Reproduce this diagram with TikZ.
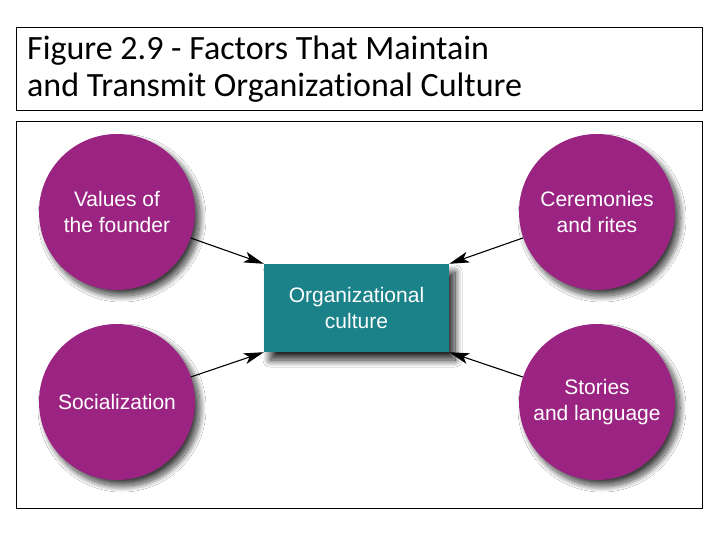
\documentclass[tikz,border=0pt]{standalone}
\usepackage{fontspec}
\setmainfont{Liberation Sans}
\newfontfamily\titlefont[Ligatures={NoCommon,NoRare,NoContextual},RawFeature={-liga;-dlig;-calt}]{Carlito}
\usetikzlibrary{arrows.meta,shadows.blur}
\definecolor{factorpurple}{RGB}{155,36,130}
\definecolor{cultureteal}{RGB}{27,130,138}
\tikzset{
  frame/.style={draw=black,line width=0.9pt},
  factor/.style={circle,fill=factorpurple,minimum size=156pt,inner sep=0pt,text=white,
    font=\fontsize{21}{26}\selectfont,align=center,
    blur shadow={shadow xshift=5pt,shadow yshift=-6pt,shadow blur radius=6pt,shadow blur steps=20,shadow opacity=75}},
  culture/.style={rectangle,fill=cultureteal,minimum width=185pt,minimum height=88pt,inner sep=0pt,
    text=white,font=\fontsize{21}{26}\selectfont,align=center,
    blur shadow={shadow xshift=6pt,shadow yshift=-8pt,shadow blur radius=7pt,shadow blur steps=20,shadow opacity=85}},
  link/.style={draw=black,line width=1.1pt,-{Stealth[length=20pt,width=11pt,inset=5pt]}},
  titletext/.style={anchor=base west,inner sep=0pt,font=\titlefont\fontsize{34}{37}\selectfont}
}
\begin{document}
\begin{tikzpicture}[x=1pt,y=-1pt]
\useasboundingbox (0,0) rectangle (720,540);
\fill[white] (0,0) rectangle (720,540);
\draw[frame] (16,27) rectangle (702,110);
\draw[frame] (16,121) rectangle (702,508);
\node[titletext] (t1) at (27,60) {Figure 2.9 - Factors That Maintain};
\node[titletext] (t2) at (27,97) {and Transmit Organizational Culture};
\node[culture] (org) at (356.5,308) {Organizational\\culture};
\node[factor] (tl) at (117,212) {Values of\\the founder};
\node[factor] (tr) at (597,212) {Ceremonies\\and rites};
\node[factor] (bl) at (117,402) {Socialization};
\node[factor] (br) at (597,402) {Stories\\and language};
\draw[link] (tl) -- (org.north west);
\draw[link] (tr) -- (org.north east);
\draw[link] (bl) -- (org.south west);
\draw[link] (br) -- (org.south east);
\end{tikzpicture}
\end{document}
